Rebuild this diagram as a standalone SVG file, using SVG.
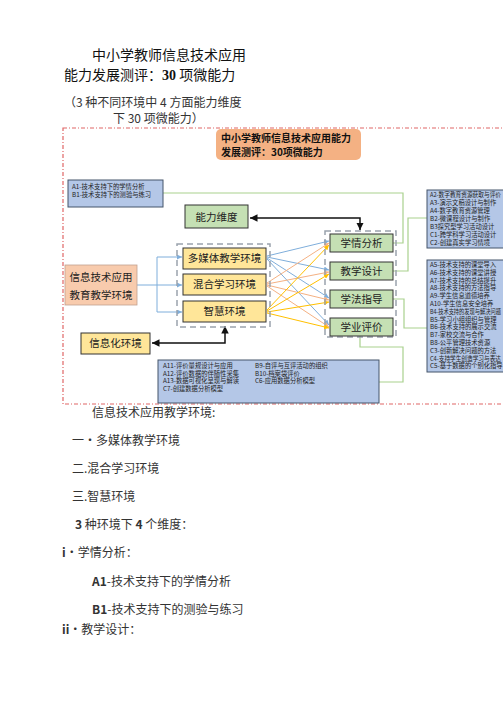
<svg xmlns="http://www.w3.org/2000/svg" width="503" height="711" viewBox="0 0 503 711">
<defs>
<style>
.t{font-family:"Noto Sans CJK SC","Liberation Sans",sans-serif;}
.body{font-size:12px;fill:#333;}
.title{font-size:14px;fill:#111;}
.sm{font-size:6.3px;fill:#222;}
.box{font-size:10.5px;fill:#222;}
.blue{fill:#B4C7E7;stroke:#44546A;stroke-width:1;}
.env{fill:#FFE699;stroke:#333;stroke-width:1;}
.dim{fill:#C5E0B4;stroke:#333;stroke-width:1;}
.grp{fill:none;stroke:#9AA3AD;stroke-width:1.5;stroke-dasharray:6 4;}
.g{fill:none;stroke:#A9D18E;stroke-width:1.2;}
.lb{fill:none;stroke:#7FAEDB;stroke-width:1;}
.lo{fill:none;stroke:#F4B183;stroke-width:1;}
.ly{fill:none;stroke:#FFC000;stroke-width:1;}
.blk{fill:none;stroke:#111;stroke-width:1.5;}
</style>
<marker id="ab" viewBox="0 0 6 6" refX="6" refY="3" markerWidth="5" markerHeight="5" orient="auto-start-reverse"><path d="M0,0 L6,3 L0,6 z" fill="#7FAEDB"/></marker>
<marker id="ao" viewBox="0 0 6 6" refX="6" refY="3" markerWidth="5" markerHeight="5" orient="auto"><path d="M0,0 L6,3 L0,6 z" fill="#F4B183"/></marker>
<marker id="ay" viewBox="0 0 6 6" refX="6" refY="3" markerWidth="5" markerHeight="5" orient="auto"><path d="M0,0 L6,3 L0,6 z" fill="#FFC000"/></marker>
<marker id="ak" viewBox="0 0 8 8" refX="8" refY="4" markerWidth="5" markerHeight="5" orient="auto-start-reverse"><path d="M0,0 L8,4 L0,8 z" fill="#111"/></marker>
</defs>
<rect width="503" height="711" fill="#fff"/>

<g id="heading" class="t">
<text x="92" y="60" class="title">中小学教师信息技术应用</text>
<text x="64" y="80" class="title">能力发展测评：<tspan font-weight="bold" font-family="Liberation Serif,serif">30</tspan> 项微能力</text>
<text x="64" y="107" class="body" font-size="11.5">（3 种不同环境中 4 方面能力维度</text>
<text x="113" y="123" class="body" font-size="11.5">下 30 项微能力）</text>
</g>

<rect id="frame" x="63" y="128" width="450" height="276" fill="none" stroke="#E06666" stroke-width="1.2" stroke-dasharray="4 2 1 2"/>

<g id="connectors">
<path class="g" d="M163,193 H403 V243 H393"/>
<path class="g" d="M393,271 H408 V218 H427"/>
<path class="g" d="M393,299 H404 V328 H427"/>
<path class="g" d="M360,336 V347 H403 V382 H379"/>
<path class="lb" d="M137,285 H182" marker-end="url(#ab)"/>
<path class="lb" d="M157,285 V257 H182" marker-end="url(#ab)"/>
<path class="lb" d="M157,285 V312 H182" marker-end="url(#ab)"/>
<path class="lb" d="M267,256 L329,241" marker-end="url(#ab)"/>
<path class="lb" d="M267,257 L329,270" marker-end="url(#ab)"/>
<path class="lb" d="M267,258 L329,298" marker-end="url(#ab)"/>
<path class="lb" d="M267,259 L329,325" marker-end="url(#ab)"/>
<path class="lo" d="M267,283 L329,243" marker-end="url(#ao)"/>
<path class="lo" d="M267,284 L329,272" marker-end="url(#ao)"/>
<path class="lo" d="M267,285 L329,300" marker-end="url(#ao)"/>
<path class="lo" d="M267,286 L329,327" marker-end="url(#ao)"/>
<path class="ly" d="M267,310 L329,245" marker-end="url(#ay)"/>
<path class="ly" d="M267,311 L329,274" marker-end="url(#ay)"/>
<path class="ly" d="M267,312 L329,302" marker-end="url(#ay)"/>
<path class="ly" d="M267,313 L329,328" marker-end="url(#ay)"/>
<path class="blk" d="M250,218 H360 V230" marker-start="url(#ak)" marker-end="url(#ak)"/>
<path class="blk" d="M152,343 H225 V326" marker-start="url(#ak)" marker-end="url(#ak)"/>
</g>

<g id="title-box" class="t">
<rect x="216" y="129" width="145" height="31" rx="5" fill="#F4B183"/>
<text x="221" y="142" font-size="10" font-weight="bold" fill="#111">中小学教师信息技术应用能力</text>
<text x="221" y="155.5" font-size="10" font-weight="bold" fill="#111">发展测评：30项微能力</text>
</g>

<g id="box-a1" class="t">
<rect class="blue" x="68" y="180" width="95" height="27"/>
<text x="72" y="189" class="sm">A1-技术支持下的学情分析</text>
<text x="72" y="197" class="sm">B1-技术支持下的测验与练习</text>
</g>

<g id="node-ability" class="t">
<rect class="dim" x="185" y="205" width="63" height="23"/>
<text x="216.5" y="221" class="box" font-size="11.5" text-anchor="middle">能力维度</text>
</g>

<g id="node-source" class="t">
<rect x="65" y="265" width="72" height="40" fill="#F8CBAD" stroke="#C0A090" stroke-width="0.8"/>
<text x="101" y="281" class="box" text-anchor="middle">信息技术应用</text>
<text x="101" y="299" class="box" text-anchor="middle">教育教学环境</text>
</g>

<g id="env-group" class="t">
<rect class="grp" x="177" y="244" width="93" height="83"/>
<g id="env-multimedia"><rect class="env" x="183" y="248" width="83" height="21"/><text x="224.5" y="262" class="box" text-anchor="middle">多媒体教学环境</text></g>
<g id="env-blended"><rect class="env" x="183" y="274" width="83" height="21"/><text x="224.5" y="288" class="box" text-anchor="middle">混合学习环境</text></g>
<g id="env-smart"><rect class="env" x="183" y="301" width="83" height="21"/><text x="224.5" y="315" class="box" text-anchor="middle">智慧环境</text></g>
</g>

<g id="node-info-env" class="t">
<rect class="env" x="81" y="333" width="69" height="21"/>
<text x="115.5" y="347" class="box" text-anchor="middle">信息化环境</text>
</g>

<g id="dim-group" class="t">
<rect class="grp" x="325" y="231" width="71" height="106"/>
<g id="dim-analysis"><rect class="dim" x="330" y="234" width="63" height="18"/><text x="361.5" y="247" class="box" text-anchor="middle">学情分析</text></g>
<g id="dim-design"><rect class="dim" x="330" y="262" width="63" height="18"/><text x="361.5" y="275" class="box" text-anchor="middle">教学设计</text></g>
<g id="dim-guidance"><rect class="dim" x="330" y="290" width="63" height="18"/><text x="361.5" y="303" class="box" text-anchor="middle">学法指导</text></g>
<g id="dim-evaluation"><rect class="dim" x="330" y="318" width="63" height="18"/><text x="361.5" y="331" class="box" text-anchor="middle">学业评价</text></g>
</g>

<g id="box-a2" class="t">
<rect class="blue" x="427" y="190" width="85" height="58"/>
<text x="430" y="197" class="sm" textLength="71" lengthAdjust="spacingAndGlyphs">A2-数字教育资源获取与评价</text>
<text x="430" y="205" class="sm">A3-演示文稿设计与制作</text>
<text x="430" y="213" class="sm">A4-数字教育资源管理</text>
<text x="430" y="221" class="sm">B2-微课程设计与制作</text>
<text x="430" y="229" class="sm">B3探究型学习活动设计</text>
<text x="430" y="237" class="sm">C1-跨学科学习活动设计</text>
<text x="430" y="245" class="sm">C2-创建真实学习情境</text>
</g>

<g id="box-a5" class="t">
<rect class="blue" x="427" y="260" width="85" height="112"/>
<text x="430" y="267" class="sm">A5-技术支持的课堂导入</text>
<text x="430" y="274.8" class="sm">A6-技术支持的课堂讲授</text>
<text x="430" y="282.6" class="sm">A7-技术支持的总结提升</text>
<text x="430" y="290.4" class="sm">A8-技术支持的方法指导</text>
<text x="430" y="298.2" class="sm">A9-学生信息道德培养</text>
<text x="430" y="306" class="sm">A10-学生信息安全培养</text>
<text x="430" y="313.8" class="sm" textLength="71" lengthAdjust="spacingAndGlyphs">B4-技术支持的发现与解决问题</text>
<text x="430" y="321.6" class="sm">B5-学习小组组织与管理</text>
<text x="430" y="329.4" class="sm">B6-技术支持的展示交流</text>
<text x="430" y="337.2" class="sm">B7-家校交流与合作</text>
<text x="430" y="345" class="sm">B8-公平管理技术资源</text>
<text x="430" y="352.8" class="sm">C3-创新解决问题的方法</text>
<text x="430" y="360.6" class="sm" textLength="71" lengthAdjust="spacingAndGlyphs">C4-支持学生创造学习与表达</text>
<text x="430" y="368.4" class="sm">C5-基于数据的个别化指导</text>
</g>

<g id="box-a11" class="t">
<rect class="blue" x="158" y="360" width="221" height="43"/>
<text x="163" y="368" class="sm">A11-评价量规设计与应用</text>
<text x="163" y="375.5" class="sm">A12-评价数据的伴随性采集</text>
<text x="163" y="383" class="sm">A13-数据可视化呈现与解读</text>
<text x="163" y="390.5" class="sm">C7-创建数据分析模型</text>
<text x="255" y="368" class="sm">B9-自评与互评活动的组织</text>
<text x="255" y="375.5" class="sm">B10-档案袋评价</text>
<text x="255" y="383" class="sm">C6-应用数据分析模型</text>
</g>

<g id="body-text" class="t body">
<text x="92" y="417">信息技术应用教学环境:</text>
<text x="72" y="445">一・多媒体教学环境</text>
<text x="72" y="473">二.混合学习环境</text>
<text x="72" y="501">三.智慧环境</text>
<text x="75" y="529"><tspan font-weight="bold">3</tspan> 种环境下 <tspan font-weight="bold">4</tspan> 个维度：</text>
<text x="62" y="557"><tspan font-weight="bold">i</tspan>・学情分析：</text>
<text x="92" y="586"><tspan font-weight="bold">A1</tspan>-技术支持下的学情分析</text>
<text x="92" y="614"><tspan font-weight="bold">B1</tspan>-技术支持下的测验与练习</text>
<text x="62" y="634"><tspan font-weight="bold">ii</tspan>・教学设计：</text>
</g>
</svg>
